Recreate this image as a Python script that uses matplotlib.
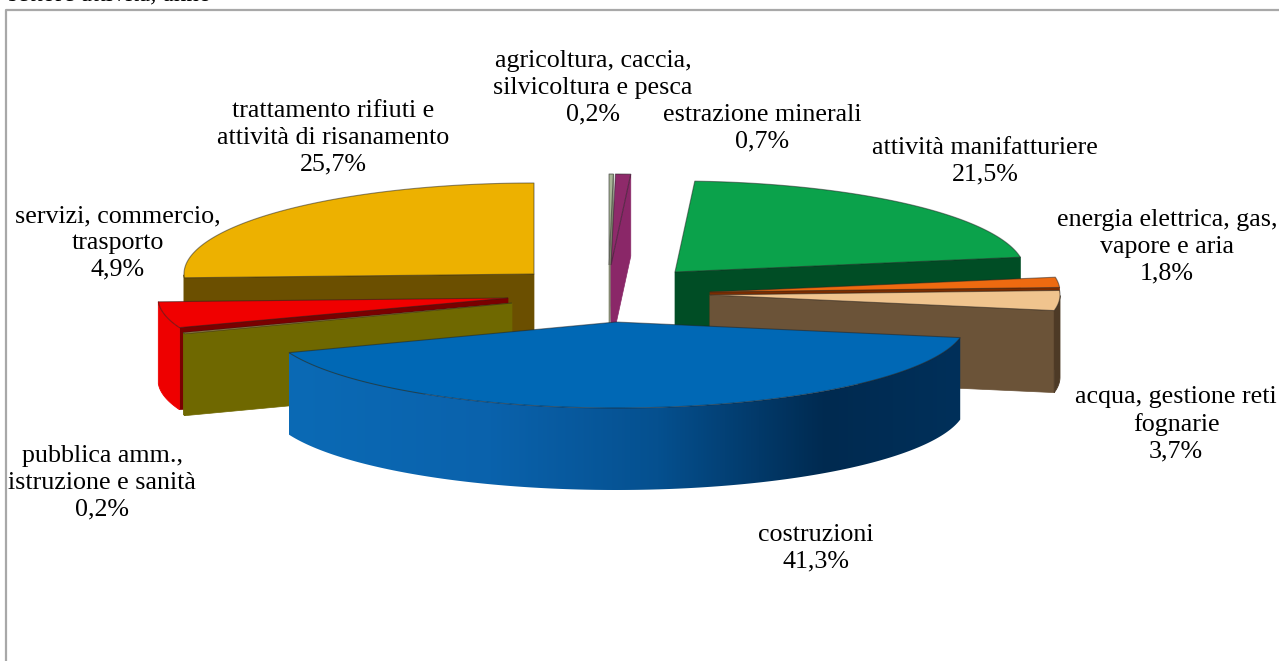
import numpy as np
import matplotlib
matplotlib.use('Agg')
import matplotlib.pyplot as plt
from matplotlib.colors import to_rgb
from matplotlib.patches import Polygon

plt.rcParams['font.family'] = ['Liberation Serif', 'DejaVu Serif']

# dati: quota percentuale per settore, in senso orario da ore 12
settori = ['agricoltura, caccia,\nsilvicoltura e pesca', 'estrazione minerali',
           'attività manifatturiere', 'energia elettrica, gas,\nvapore e aria',
           'acqua, gestione reti\nfognarie', 'costruzioni',
           'pubblica amm.,\nistruzione e sanità', 'servizi, commercio,\ntrasporto',
           'trattamento rifiuti e\nattività di risanamento']
valori = [0.2, 0.7, 21.5, 1.8, 3.7, 41.3, 0.2, 4.9, 25.7]

# stile
col_top = ['#a7b596', '#8e2a6a', '#0ba24b', '#ee6a10', '#f0c48e', '#0068b5', '#e0c060', '#f00000', '#edb100']
col_lato = ['#858a72', '#8a2768', '#004d25', '#7a2c00', '#6b5338', '#05508f', '#6f6800', '#7a0000', '#6b4f00']
col_arco = ['#858a72', '#8a2768', '#004d25', '#7a2c00', '#4d3a26', '#05508f', '#6f6800', '#ee0000', '#6b4f00']
# vertice di ogni fetta esplosa, in pixel
vertici = [(609, 265), (611, 265), (675, 272), (710, 292), (710, 295), (616, 322), (512, 303), (508, 298), (534, 274)]
pos_etichette = [(593, 88), (762, 128), (985, 161), (1167, 247), (1176, 424), (816, 548), (102, 483), (118, 243), (333, 138)]
RX, RY_FRONTE, RY_RETRO, H = 350, 86, 91, 82

fig = plt.figure(figsize=(12.79, 6.61), dpi=100)
ax = fig.add_axes([0, 0, 1, 1])
ax.axis('off')

# cornice del grafico
ax.plot([6, 6, 1279], [661, 10, 10], color='#a8a8a8', lw=1.6, zorder=0)
# riga del titolo tagliata dal bordo
ax.text(8, 0, 'settore attività, anno', fontsize=18, va='baseline', clip_on=True, zorder=1)

quote = np.array(valori) / sum(valori) * 360
fine = np.cumsum(quote)
inizio = fine - quote

def punto(v, ang):
    t = np.radians(ang)
    ry = RY_RETRO if np.cos(t) > 0 else RY_FRONTE
    return v[0] + RX * np.sin(t), v[1] - ry * np.cos(t)

# sfumatura orizzontale della parete blu
stop_x = [0.0, 0.3, 0.55, 0.8, 1.0]
stop_c = np.array([to_rgb(c) for c in ['#0b6ab5', '#0a62ac', '#05508f', '#002a50', '#00305a']])
xs = np.linspace(0, 1, 256)
sfumatura = np.stack([np.interp(xs, stop_x, stop_c[:, k]) for k in range(3)], axis=-1)[np.newaxis, :, :]

ordine = sorted(range(len(valori)), key=lambda i: vertici[i][1])
z = 2
for i in ordine:
    v = vertici[i]
    a0, a1 = inizio[i], fine[i]
    angs = np.linspace(a0, a1, max(int(a1 - a0) * 2, 4))
    # facce radiali visibili
    for a, visibile in ((a1, a1 < 180), (a0, a0 > 180)):
        if visibile:
            p = punto(v, a)
            ax.add_patch(Polygon([v, p, (p[0], p[1] + H), (v[0], v[1] + H)],
                                 fc=col_lato[i], ec=col_lato[i], lw=0.5, zorder=z))
    z += 1
    # parete esterna sulla metà anteriore
    front = angs[(angs > 90) & (angs < 270)]
    if len(front) > 1:
        alto = [punto(v, a) for a in front]
        basso = [(x, y + H) for x, y in alto][::-1]
        xx = [p[0] for p in alto]
        if valori[i] == max(valori):
            parete = Polygon(alto + basso, fc='none', ec='none', zorder=z)
            ax.add_patch(parete)
            im = ax.imshow(sfumatura, extent=[min(xx), max(xx), 661, 0], aspect='auto', zorder=z)
            im.set_clip_path(parete)
        else:
            ax.add_patch(Polygon(alto + basso, fc=col_arco[i], ec=col_arco[i], lw=0.6, zorder=z))
    z += 1
    # faccia superiore
    top = [v] + [punto(v, a) for a in angs]
    ax.add_patch(Polygon(top, fc=col_top[i], ec='#20202080', lw=0.8, zorder=z))
    z += 1

ax.set_xlim(0, 1279)
ax.set_ylim(661, 0)

# etichette
for nome, val, pos in zip(settori, valori, pos_etichette):
    txt = nome + '\n' + f'{val:.1f}%'.replace('.', ',')
    ax.text(pos[0], pos[1], txt, ha='center', va='center', fontsize=18.7, linespacing=1.28, color='black', zorder=100)

fig.savefig('out.png', dpi=100)
